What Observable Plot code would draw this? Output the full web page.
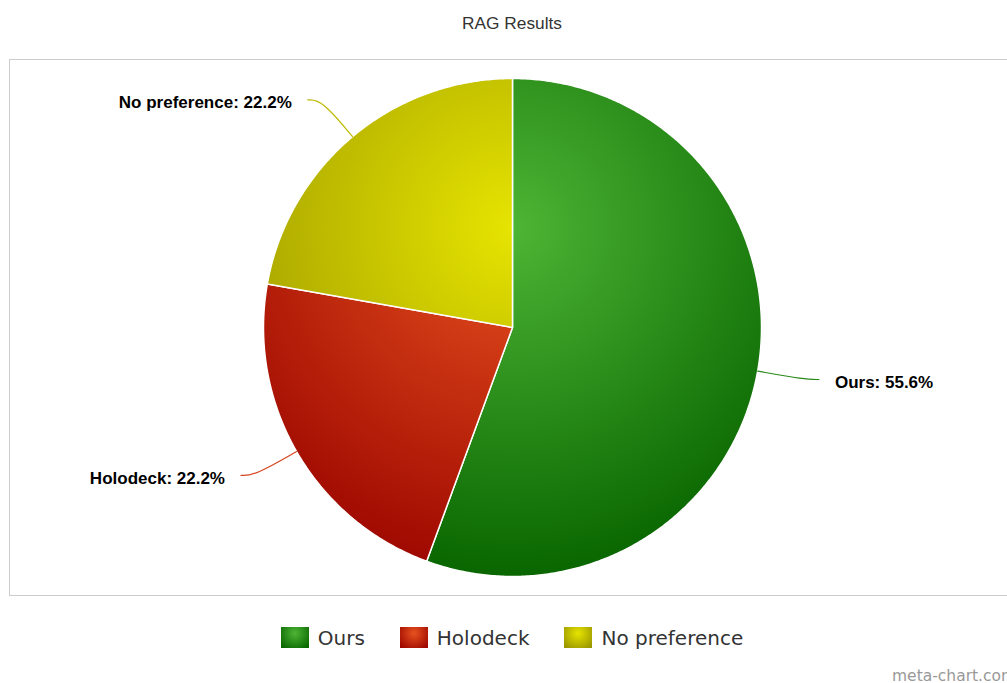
<!DOCTYPE html>
<html>
<head>
<meta charset="utf-8">
<script src="https://cdn.jsdelivr.net/npm/d3@7"></script>
<script src="https://cdn.jsdelivr.net/npm/@observablehq/plot@0.6"></script>
<style>
html { margin: 0; padding: 0; overflow: hidden; width: 1007px; height: 683px; background: #fff; }
body { margin: 0; padding: 0; background: #fff; width: 1024px; height: 683px; position: relative; overflow: hidden; }
#title { width: 1024px; height: 58px; box-sizing: border-box; padding-top: 13px; line-height: 20px; text-align: center;
  font: 17.3px "Liberation Sans", Arial, sans-serif; color: #333; }
#chart { height: 538px; width: 1024px; }
#legend { width: 1024px; height: 60px; box-sizing: border-box; padding-top: 31px; display: flex; justify-content: center; }
.item { display: flex; align-items: center; height: 21px; font: 20px "DejaVu Sans", Verdana, sans-serif; color: #333; white-space: nowrap; }
.item + .item { margin-left: 35px; }
.swatch { width: 28px; height: 21px; margin-right: 9px; }
#credit { position: absolute; left: 892px; top: 666px; font: 15.5px "DejaVu Sans", Verdana, sans-serif; color: #999; white-space: nowrap; line-height: 20px; }
</style>
</head>
<body>
<div id="title">RAG Results</div>
<div id="chart"></div>
<div id="legend"></div>
<div id="credit">meta-chart.com</div>
<script>
// ---- data ----
const categories = ["Ours", "Holodeck", "No preference"];
const shares = [55.6, 22.2, 22.2];
// ---- palette ----
const lightColors = ["#4db535", "#e8521f", "#e6e400"];
const darkColors = ["#096600", "#9e0800", "#9a9600"];
const lineColors = ["#2a8a1a", "#d64520", "#bdb900"];

const rows = categories.map((c, i) => ({cat: c, share: shares[i], idx: i}));
const R = 249;
const arcs = d3.pie().sort(null).value(d => d.share)(rows);

const slices = categories.map(() => []);
const connectors = [];
const labels = [];
arcs.forEach(a => {
  const d = a.data;
  const pts = slices[d.idx];
  pts.push({x: 0, y: 0});
  const n = Math.max(2, Math.ceil((a.endAngle - a.startAngle) / (Math.PI / 360)));
  for (let k = 0; k <= n; k++) {
    const t = a.startAngle + (a.endAngle - a.startAngle) * k / n;
    pts.push({x: R * Math.sin(t), y: R * Math.cos(t)});
  }
  const m = (a.startAngle + a.endAngle) / 2;
  const s = Math.sin(m), c = Math.cos(m);
  const side = s >= 0 ? 1 : -1;
  const p0 = {x: R * s, y: R * c};
  const p1 = {x: (R + 48) * s, y: (R + 48) * c};
  const p2 = {x: p1.x + side * 14, y: p1.y};
  [p0, p1, p2].forEach(p => connectors.push({...p, cat: d.cat}));
  labels.push({x: p2.x + side * 16, y: p2.y, side, text: `${d.cat}: ${d.share.toFixed(1)}%`});
});

const textOpts = {x: "x", y: "y", text: "text", dy: 3, fontSize: 17, fontWeight: "bold",
  fontFamily: "Liberation Sans, Arial, sans-serif", fill: "#000"};

const plot = Plot.plot({
  width: 1024,
  height: 538,
  marginLeft: 9, marginRight: 9, marginTop: 1, marginBottom: 1,
  style: {maxWidth: "none", overflow: "visible", background: "white"},
  x: {domain: [-503, 503], axis: null},
  y: {domain: [-268, 268], axis: null},
  color: {domain: categories, range: lineColors},
  marks: [
    Plot.frame({stroke: "#cccccc", strokeWidth: 1}),
    ...categories.map((c, i) => Plot.line(slices[i], {
      x: "x", y: "y", curve: "linear-closed",
      fill: `url(#grad${i})`, stroke: "white", strokeWidth: 1.5, strokeLinejoin: "round"
    })),
    Plot.line(connectors, {x: "x", y: "y", z: "cat", stroke: "cat", strokeWidth: 1.2, curve: "basis"}),
    Plot.text(labels.filter(d => d.side > 0), {...textOpts, textAnchor: "start"}),
    Plot.text(labels.filter(d => d.side < 0), {...textOpts, textAnchor: "end"})
  ]
});

const xs = plot.scale("x"), ys = plot.scale("y");
const gcx = xs.apply(0), gcy = ys.apply(0.4 * R), gr = 1.4 * R;
const defs = d3.select(plot).insert("defs", ":first-child");
categories.forEach((c, i) => {
  const g = defs.append("radialGradient").attr("id", "grad" + i)
    .attr("gradientUnits", "userSpaceOnUse")
    .attr("cx", gcx).attr("cy", gcy).attr("r", gr);
  g.append("stop").attr("offset", 0).attr("stop-color", lightColors[i]);
  g.append("stop").attr("offset", 1).attr("stop-color", darkColors[i]);
});
document.getElementById("chart").appendChild(plot);

const legend = d3.select("#legend");
categories.forEach((c, i) => {
  const item = legend.append("div").attr("class", "item");
  item.append("div").attr("class", "swatch")
    .style("background", `radial-gradient(circle at 50% 30%, ${lightColors[i]}, ${darkColors[i]} 90%)`);
  item.append("span").text(c);
});
</script>
</body>
</html>
